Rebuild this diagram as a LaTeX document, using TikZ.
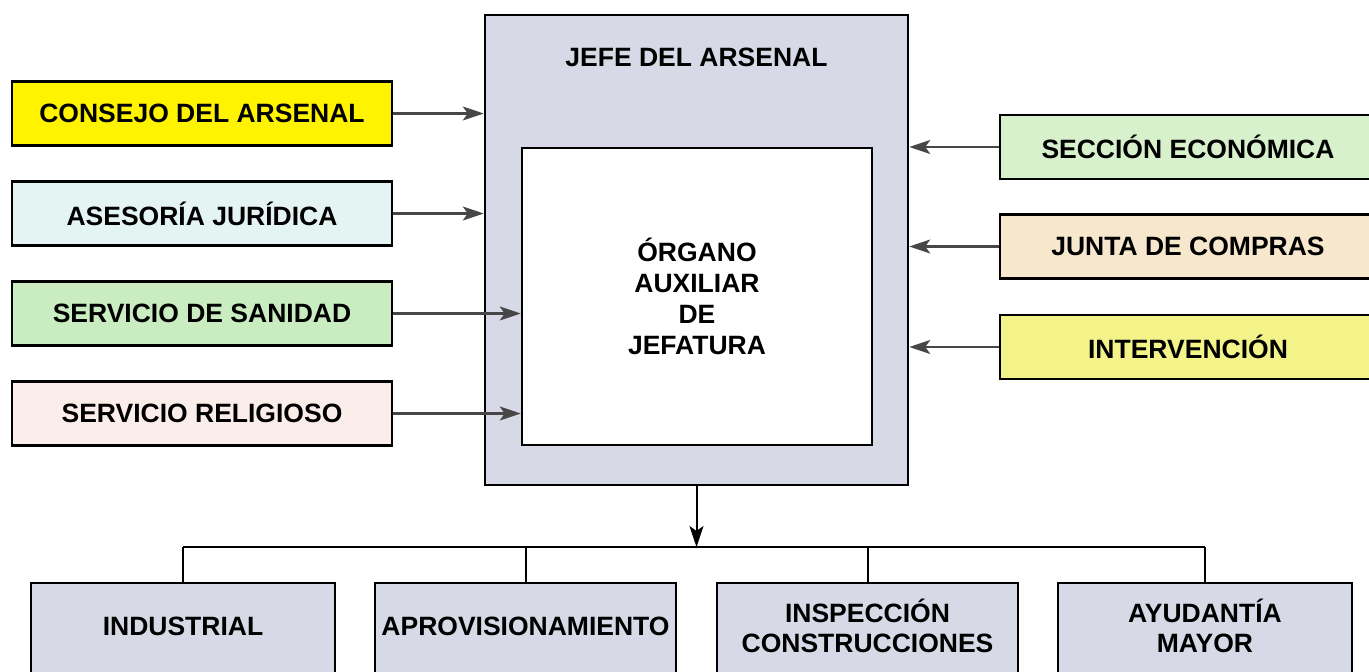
\documentclass[tikz,border=0pt]{standalone}
\usepackage{fontspec}
\setmainfont{Liberation Sans}
\usetikzlibrary{arrows.meta}
\definecolor{consejoC}{RGB}{255,243,0}
\definecolor{asesorC}{RGB}{228,244,242}
\definecolor{sanidadC}{RGB}{201,237,193}
\definecolor{religC}{RGB}{251,238,234}
\definecolor{seccionC}{RGB}{214,241,203}
\definecolor{juntaC}{RGB}{247,231,204}
\definecolor{intervC}{RGB}{244,243,138}
\definecolor{jefeC}{RGB}{215,217,230}

\begin{document}
\begin{tikzpicture}[x=1pt, y=-1pt, % pixel grid, y going down
         > = {Stealth[length=21pt, width=14pt, inset=5pt]},
every node/.style = {font=\fontsize{26.5}{31}\selectfont\bfseries, align=center},
box/.style = {draw, line width=2.5pt, inner sep=0pt,
              minimum height=64pt},
lbox/.style = {box, minimum width=380pt},
rbox/.style = {box, minimum width=376pt},
unit/.style = {box, fill=jefeC, minimum height=117pt},
utext/.style = {yshift=15.5pt, font=\fontsize{26.5}{30}\selectfont\bfseries, align=center},
link/.style = {->, line width=2.2pt, black!72}
                        ]
	\useasboundingbox (0,0) rectangle (1369,672);

	% jefe del arsenal
	\node[box, fill=jefeC, minimum width=423pt, minimum height=470pt] (jefe) at (696.5,250) {};
	\node (titulo) at (696.5,57) {JEFE DEL ARSENAL};
	\node[box, fill=white, minimum width=350pt, minimum height=297pt] (organo) at (697,296.5)
	     {ÓRGANO\\AUXILIAR\\DE\\JEFATURA};

	% left side
	\node[lbox, fill=consejoC] (consejo) at (202,113.5) {CONSEJO DEL ARSENAL};
	\node[lbox, fill=asesorC]  (asesoria) at (202,213.5) {ASESORÍA JURÍDICA};
	\node[lbox, fill=sanidadC] (sanidad) at (202,313.5) {SERVICIO DE SANIDAD};
	\node[lbox, fill=religC]   (religioso) at (202,413.5) {SERVICIO RELIGIOSO};

	\draw[link] (consejo.east)   -- (consejo.east -| jefe.west);
	\draw[link] (asesoria.east)  -- (asesoria.east -| jefe.west);
	\draw[link] (sanidad.east)   -- (sanidad.east -| organo.west);
	\draw[link] (religioso.east) -- (religioso.east -| organo.west);

	% right side
	\node[rbox, fill=seccionC] (seccion) at (1188,147) {SECCIÓN ECONÓMICA};
	\node[rbox, fill=juntaC]   (junta) at (1188,246.5) {JUNTA DE COMPRAS};
	\node[rbox, fill=intervC]  (interv) at (1188,347) {INTERVENCIÓN};

	\draw[link] (seccion.west) -- (seccion.west -| jefe.east);
	\draw[link] (junta.west)   -- (junta.west -| jefe.east);
	\draw[link] (interv.west)  -- (interv.west -| jefe.east);

	% dependencias
	\coordinate (bus) at (696.5,547);
	\node[unit, minimum width=304pt, label={[utext]center:INDUSTRIAL}] (indus) at (183,641.5) {};
	\node[unit, minimum width=301pt, label={[utext]center:APROVISIONAMIENTO}] (aprov) at (525.5,641.5) {};
	\node[unit, minimum width=301pt, label={[utext]center:INSPECCIÓN\\CONSTRUCCIONES}] (insp) at (867.5,641.5) {};
	\node[unit, minimum width=294pt, label={[utext]center:AYUDANTÍA\\MAYOR}] (ayud) at (1205,641.5) {};

	\draw[->, line width=2pt] (jefe.south) -- (bus);
	\draw[line width=2pt] (indus.north |- bus) -- (ayud.north |- bus);
	\draw[line width=2pt] (indus.north |- bus) -- (indus.north);
	\draw[line width=2pt] (aprov.north |- bus) -- (aprov.north);
	\draw[line width=2pt] (insp.north |- bus)  -- (insp.north);
	\draw[line width=2pt] (ayud.north |- bus)  -- (ayud.north);
\end{tikzpicture}
\end{document}
